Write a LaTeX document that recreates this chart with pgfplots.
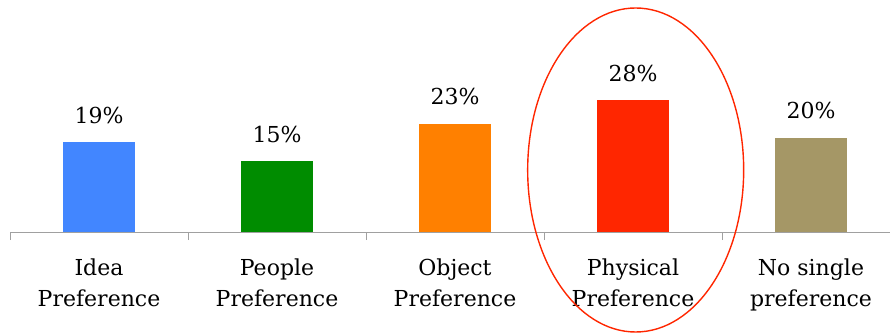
\documentclass[border=0pt]{standalone}
\usepackage{pgfplots}
\pgfplotsset{compat=1.18}
\usepackage{fontspec}
\setmainfont{DejaVu Serif}
\definecolor{ideablue}{RGB}{66,134,255}
\definecolor{peoplegreen}{RGB}{0,140,0}
\definecolor{objectorange}{RGB}{255,128,0}
\definecolor{physicalred}{RGB}{255,38,0}
\definecolor{nonekhaki}{RGB}{165,151,102}
\definecolor{axisgray}{RGB}{160,160,160}
\begin{document}
\begin{tikzpicture}
\begin{axis}[
  scale only axis,
  width=880pt, height=232pt,
  xmin=-0.5, xmax=4.4438, ymin=0, ymax=49.2,
  axis x line*=bottom, axis y line=none,
  axis line style={draw=axisgray, line width=1pt, -},
  xtick={0,1,2,3,4},
  xticklabels={Idea\\Preference, People\\Preference, Object\\Preference, Physical\\Preference, No single\\preference},
  major x tick style={draw=none},
  minor xtick={-0.5,0.5,1.5,2.5,3.5},
  minor tick length=8pt,
  tick align=outside,
  minor x tick style={draw=axisgray, line width=1pt},
  x tick label style={align=center, font=\fontsize{22}{31}\selectfont, yshift=-19pt},
  /pgf/number format/assume math mode=true,
  ybar, bar width=72pt, bar shift=0pt,
  clip=false,
  nodes near coords={\pgfmathprintnumber{\pgfplotspointmeta}\%},
  every node near coord/.append style={font=\fontsize{22}{26}\selectfont, text=black, yshift=15pt},
]
\addplot[fill=ideablue, draw=none] coordinates {(0,19)};
\addplot[fill=peoplegreen, draw=none] coordinates {(1,15)};
\addplot[fill=objectorange, draw=none] coordinates {(2,23)};
\addplot[fill=physicalred, draw=none] coordinates {(3,28)};
\addplot[fill=nonekhaki, draw=none] coordinates {(4,20)};
% highlight ring round the physical preference bar
\draw[physicalred, line width=1.4pt] (axis cs:3.015,13.15) ellipse [x radius=108pt, y radius=162pt];
\end{axis}
\pgfresetboundingbox
\path[use as bounding box] (-10pt,-101pt) rectangle (880pt,232pt);
\end{tikzpicture}
\end{document}
